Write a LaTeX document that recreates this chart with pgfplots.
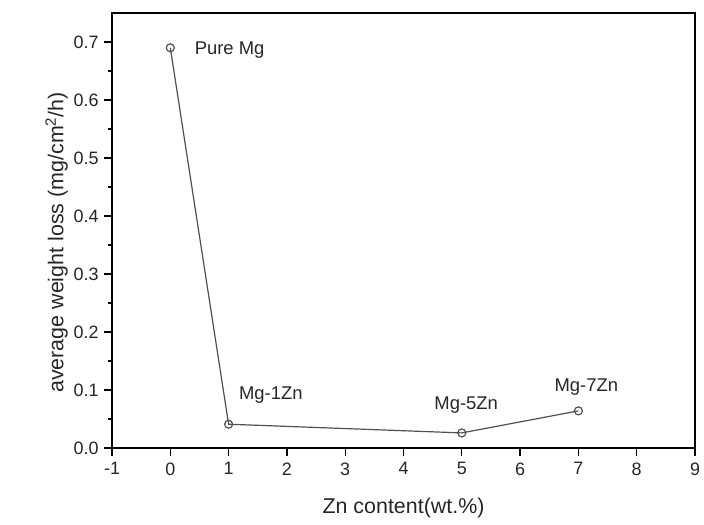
\documentclass[border=0pt]{standalone}
\usepackage{pgfplots}
\pgfplotsset{compat=1.18}
\usepackage{fontspec}
\setmainfont{Liberation Sans}
\definecolor{linegray}{RGB}{80,80,80}
\begin{document}
\begin{tikzpicture}[x=1bp,y=1bp]
\useasboundingbox (0,0) rectangle (704,525);
\begin{axis}[
  at={(112bp,77bp)}, anchor=south west,
  scale only axis, width=583bp, height=435bp,
  xmin=-1, xmax=9, ymin=0, ymax=0.75,
  xtick={-1,0,...,9},
  ytick={0,0.1,...,0.7},
  minor y tick num=1,
  tick align=outside,
  tick pos=left,
  major tick length=8bp,
  minor tick length=4.5bp,
  axis line style={line width=1.5bp, black},
  every tick/.style={line width=1.3bp, black},
  /pgf/number format/assume math mode=true,
  yticklabel style={/pgf/number format/fixed, /pgf/number format/fixed zerofill, /pgf/number format/precision=1, xshift=-2bp},
  ticklabel style={font=\fontsize{18}{20}\selectfont, text=black!85},
  xticklabel style={yshift=-3bp},
  xlabel={Zn content(wt.\%)},
  ylabel={average weight loss (mg/cm\textsuperscript{2}/h)},
  label style={font=\fontsize{21.5}{24}\selectfont, text=black!85},
  xlabel style={yshift=-16bp},
  ylabel style={yshift=-1bp, xshift=-12bp},
  clip=false,
]
\addplot[color=linegray, line width=1.2bp, mark=o, mark size=4bp,
  mark options={fill=white, line width=1.2bp, draw=linegray}]
  coordinates {(0,0.690) (1,0.041) (5,0.026) (7,0.064)};
\node[anchor=west, font=\fontsize{18.5}{20}\selectfont, text=black!85] at (axis cs:0.36,0.686) {Pure Mg};
\node[anchor=west, font=\fontsize{18.5}{20}\selectfont, text=black!85] at (axis cs:1.12,0.091) {Mg-1Zn};
\node[anchor=west, font=\fontsize{18.5}{20}\selectfont, text=black!85] at (axis cs:4.47,0.074) {Mg-5Zn};
\node[anchor=west, font=\fontsize{18.5}{20}\selectfont, text=black!85] at (axis cs:6.53,0.105) {Mg-7Zn};
\end{axis}
\end{tikzpicture}
\end{document}
